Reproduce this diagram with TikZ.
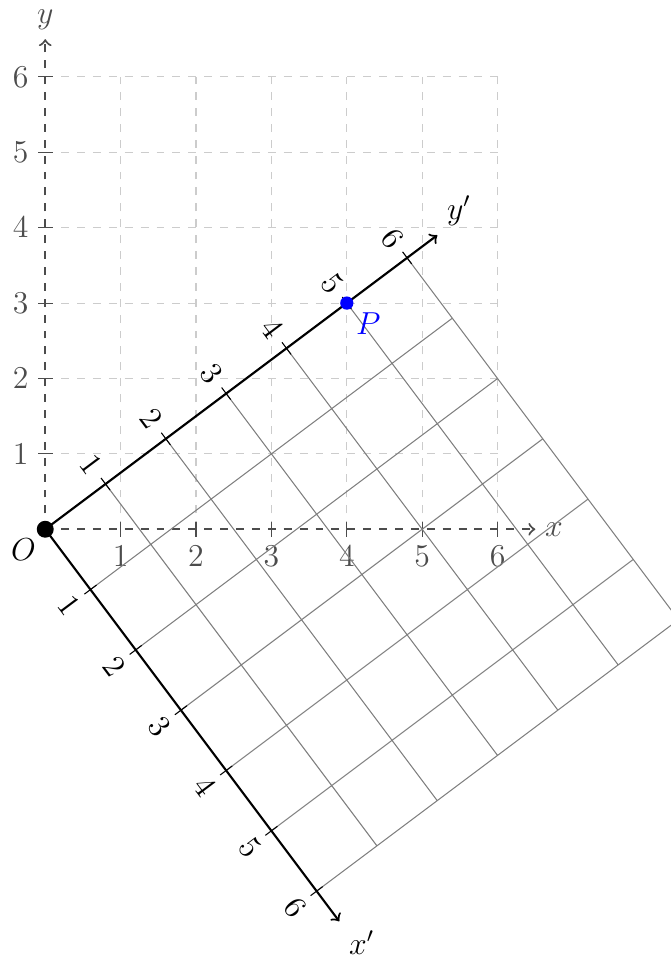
\documentclass[tikz,border=0pt]{standalone}
\usepackage{amsmath}
\usepackage{amssymb}
\usepackage{tikz}

\begin{document}
\begin{tikzpicture}[font=\large]
	\useasboundingbox (-0.6,-5.7) rectangle (8.3,7.02);
	% old frame
	\draw[gray!40,dashed] (0,0) grid (6,6);
	\draw[black!70,thick,dashed,->] (0,0) -- (6.5,0) node[right] (xlab) {$x$};
	\draw[black!70,thick,dashed,->] (0,0) -- (0,6.5) node[above] (ylab) {$y$};
	\foreach \i in {1,...,6} {
		\draw[black!70] (\i,0.1) -- (\i,-0.1) node[below] (xt\i) {$\i$};
		\draw[black!70] (0.1,\i) -- (-0.1,\i) node[left] (yt\i) {$\i$};
	}
	% new frame
	\begin{scope}[rotate=-53.13]
		\draw[gray] (0,0) grid (6,6);
		\draw[thick,->] (0,0) -- (6.5,0) node[below right] (xplab) {$x'$};
		\draw[thick,->] (0,0) -- (0,6.5) node[above right] (yplab) {$y'$};
		\foreach \i in {1,...,6} {
			\draw (\i,0.1) -- (\i,-0.1) node[below,rotate=-53.13] (xpt\i) {$\i$};
			\draw (0.1,\i) -- (-0.1,\i) node[left,rotate=-53.13] (ypt\i) {$\i$};
		}
	\end{scope}
	\fill (0,0) circle (3.2pt) node[below left] (Olab) {$O$};
	\fill[blue] (4,3) circle (2.5pt) node[below right,blue] (Plab) {$P$};
\end{tikzpicture}
\end{document}
